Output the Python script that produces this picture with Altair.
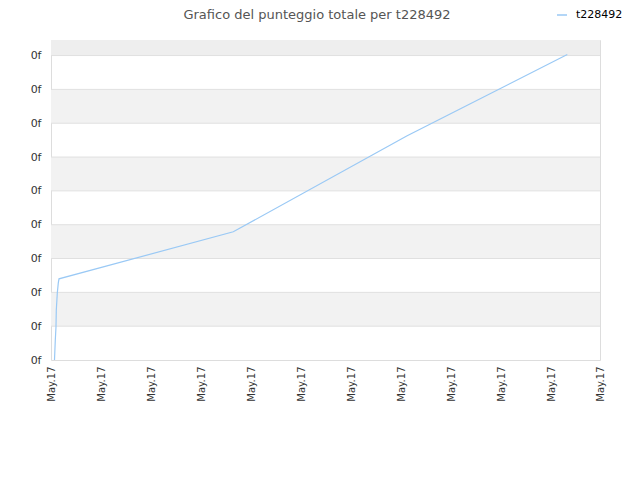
import altair as alt
import pandas as pd

# data
t_values = [3.5, 4.3, 5.0, 5.3, 6.3, 7.3, 8.0, 182.3, 355.7, 516.3]
score_values = [0.0, 0.59, 0.98, 1.48, 1.98, 2.28, 2.40, 3.79, 6.62, 9.03]
series_name = "t228492"
x_ticks = [0, 50, 100, 150, 200, 250, 300, 350, 400, 450, 500, 549]
x_tick_label = "May.17"
y_ticks = [0, 1, 2, 3, 4, 5, 6, 7, 8, 9]
y_tick_label = "0f"
y_max = 9.46
x_max = 549
title_text = "Grafico del punteggio totale per t228492"

FONT = "DejaVu Sans"

line_df = pd.DataFrame({"t": t_values, "score": score_values, "series": [series_name] * len(t_values)})

band_lo = [1, 3, 5, 7]
band_hi = [2, 4, 6, 8]
bands_df = pd.DataFrame({"lo": band_lo, "hi": band_hi})
top_df = pd.DataFrame({"lo": [9], "hi": [y_max]})
grid_df = pd.DataFrame({"v": y_ticks[1:]})

xscale = alt.Scale(domain=[0, x_max], nice=False, zero=False)
yscale = alt.Scale(domain=[0, y_max], nice=False, zero=False)

yaxis = alt.Axis(
    values=y_ticks,
    labelExpr=f"'{y_tick_label}'",
    ticks=False,
    grid=False,
    domain=False,
    title=None,
    labelFont=FONT,
    labelFontSize=11,
    labelColor="#333333",
    labelPadding=10,
    labelOverlap=False,
    labelFlush=False,
)

bands = alt.Chart(bands_df).mark_rect(color="#f2f2f2").encode(
    y=alt.Y("lo:Q", scale=yscale, axis=yaxis),
    y2="hi:Q",
    x=alt.value(0),
    x2=alt.value(x_max),
)
top_band = alt.Chart(top_df).mark_rect(color="#eeeeee").encode(
    y=alt.Y("lo:Q", scale=yscale, axis=yaxis),
    y2="hi:Q",
    x=alt.value(0),
    x2=alt.value(x_max),
)
grid = alt.Chart(grid_df).mark_rule(color="#e0e0e0", strokeWidth=1).encode(
    y=alt.Y("v:Q", scale=yscale, axis=yaxis),
    x=alt.value(0),
    x2=alt.value(x_max),
)

line = alt.Chart(line_df).mark_line(strokeWidth=1.2, interpolate="linear").encode(
    x=alt.X(
        "t:Q",
        scale=xscale,
        axis=alt.Axis(
            values=x_ticks,
            labelExpr=f"'{x_tick_label}'",
            labelAngle=270,
            labelAlign="right",
            labelBaseline="middle",
            labelPadding=6,
            ticks=False,
            grid=False,
            domain=False,
            title=None,
            labelFont=FONT,
            labelFontSize=10,
            labelColor="#333333",
            labelOverlap=False,
            labelFlush=False,
        ),
    ),
    y=alt.Y("score:Q", scale=yscale, axis=yaxis),
    color=alt.Color(
        "series:N",
        scale=alt.Scale(range=["#9ac9f5"]),
        legend=alt.Legend(
            title=None,
            orient="none",
            legendX=505,
            legendY=-31,
            symbolType="stroke",
            symbolSize=100,
            symbolStrokeWidth=1.5,
            labelOffset=8,
            labelFont=FONT,
            labelFontSize=11,
            labelColor="#000000",
        ),
    ),
)

title = alt.Chart(pd.DataFrame({"txt": [title_text]})).mark_text(
    font=FONT, fontSize=13, color="#555555", align="center", baseline="alphabetic"
).encode(
    text="txt:N",
    x=alt.value(266),
    y=alt.value(-21.5),
)

chart = alt.layer(bands, top_band, grid, line, title).properties(
    width=x_max,
    height=320,
    padding={"left": 43, "top": 32, "right": 32, "bottom": 112},
    autosize=alt.AutoSizeParams(type="none"),
).configure_view(stroke="#dddddd", strokeWidth=1).configure(background="white")

chart.save("out.html", embed_options={"renderer": "svg", "actions": False})
